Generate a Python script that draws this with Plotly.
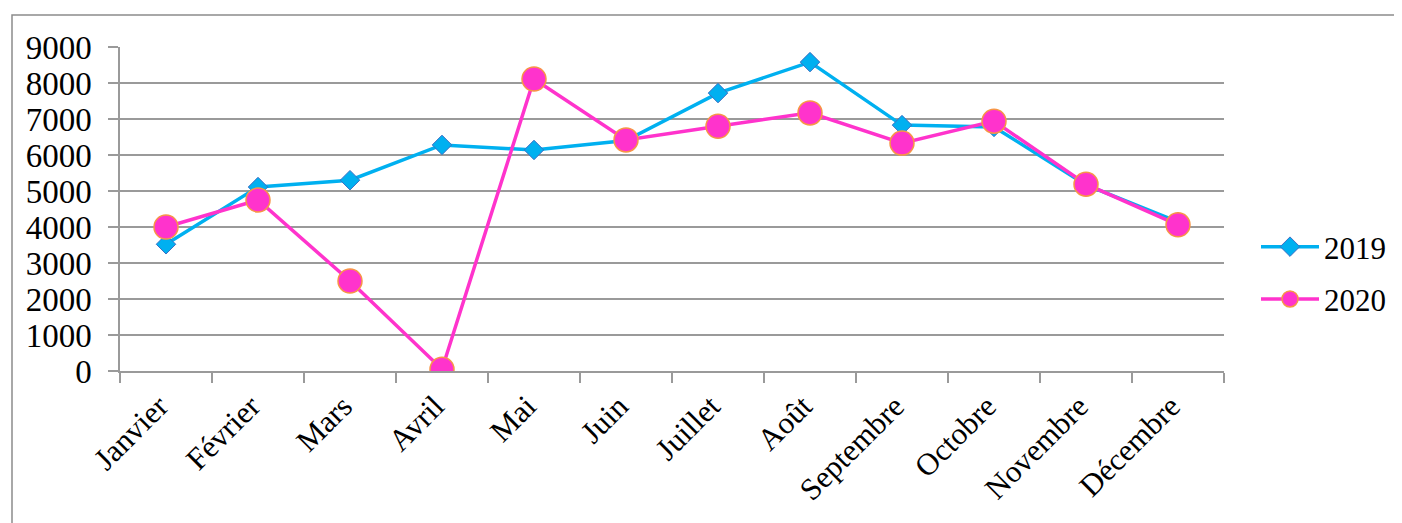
import plotly.graph_objects as go

months = ["Janvier", "Février", "Mars", "Avril", "Mai", "Juin", "Juillet",
          "Août", "Septembre", "Octobre", "Novembre", "Décembre"]
values_2019 = [3520, 5110, 5300, 6280, 6140, 6400, 7720, 8580, 6830, 6780, 5170, 4140]
values_2020 = [4000, 4750, 2500, 50, 8110, 6420, 6800, 7170, 6330, 6940, 5190, 4060]
y_ticks = [0, 1000, 2000, 3000, 4000, 5000, 6000, 7000, 8000, 9000]

FONT = "Liberation Serif, Times New Roman, serif"

fig = go.Figure()
fig.add_trace(go.Scatter(
    x=months, y=values_2019, name="2019", mode="lines+markers", legendgroup="a",
    line=dict(color="#00B0F0", width=3.5),
    marker=dict(symbol="diamond", size=15, color="#00B0F0",
                line=dict(color="#3B6FC4", width=1)),
))
fig.add_trace(go.Scatter(
    x=months, y=values_2020, name="2020", mode="lines+markers", legendgroup="b",
    line=dict(color="#FF33CC", width=3.5),
    marker=dict(symbol="circle", size=24, color="#FF33CC",
                line=dict(color="#F79646", width=1.5)),
))

# page has an 8px body margin; work in page coordinates and convert
OFF = 8
W, H = 1402 - OFF, 523 - OFF
PL, PR, PT, PB = 120, 1224, 47, 371  # plot area in page pixels
L, R, T, B = PL - OFF, W - (PR - OFF), PT - OFF, H - (PB - OFF)
pw, ph = W - L - R, H - T - B

def px_x(x):
    return (x - OFF - L) / pw

def px_y(y):
    return (H - B - (y - OFF)) / ph

fig.update_layout(
    width=W, height=H,
    margin=dict(l=L, r=R, t=T, b=B, autoexpand=False),
    paper_bgcolor="white", plot_bgcolor="white",
    font=dict(family=FONT, color="black", size=30),
    showlegend=True,
    legend=dict(x=px_x(1256), y=px_y(273), xanchor="left", yanchor="middle",
                font=dict(family=FONT, size=31, color="black"),
                bgcolor="rgba(0,0,0,0)", tracegroupgap=9, itemwidth=58),
    shapes=[dict(type="rect", xref="paper", yref="paper",
                 x0=px_x(12), x1=px_x(1420), y0=px_y(540), y1=px_y(15),
                 line=dict(color="#8C8C8C", width=1.5), layer="below")],
)
fig.update_xaxes(
    type="category", range=[-0.5, 11.5], tickangle=-45,
    showgrid=False, showline=True, linecolor="#9A9A9A", linewidth=1.5,
    ticks="outside", ticklen=10, tickcolor="#9A9A9A", tickwidth=1.5,
    tickson="boundaries", ticklabelshift=-7, ticklabelstandoff=3,
    tickfont=dict(family=FONT, size=31, color="black"),
)
fig.update_yaxes(
    range=[0, 9000], tickvals=y_ticks, ticktext=[str(v) for v in y_ticks],
    showgrid=True, gridcolor="#9A9A9A", gridwidth=1.5,
    showline=True, linecolor="#9A9A9A", linewidth=1.5,
    ticks="outside", ticklen=10, tickcolor="#9A9A9A", tickwidth=1.5,
    zeroline=False, ticklabelstandoff=10,
    tickfont=dict(family=FONT, size=33, color="black"),
)

fig.write_html("out.html")
